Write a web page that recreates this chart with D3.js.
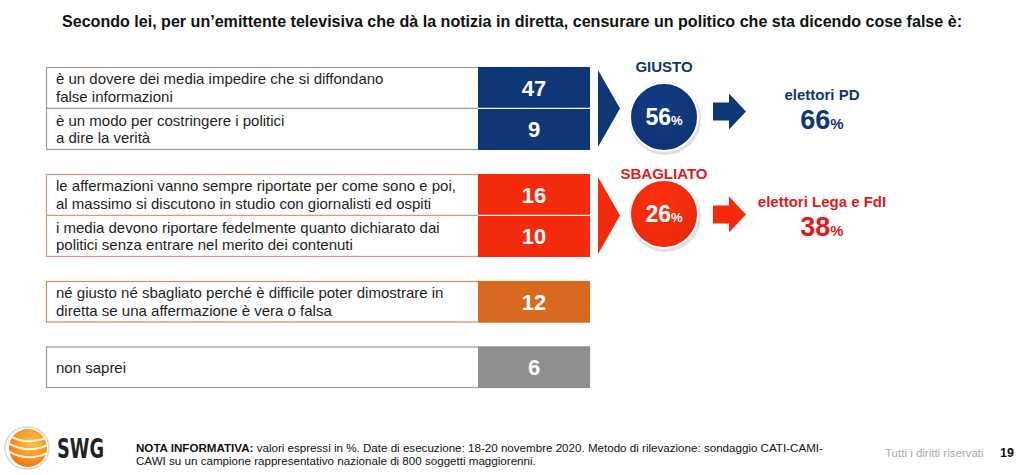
<!DOCTYPE html>
<html><head><meta charset="utf-8">
<script src="https://cdn.jsdelivr.net/npm/d3@7/dist/d3.min.js"></script>
<style>
html,body{margin:0;padding:0;background:#fff;}
svg{display:block;font-family:"Liberation Sans",Arial,sans-serif;}
</style></head>
<body><svg id="c" width="1025" height="475"></svg>
<script>
const title = "Secondo lei, per un’emittente televisiva che dà la notizia in diretta, censurare un politico che sta dicendo cose false è:";
const categories = [
  ["è un dovere dei media impedire che si diffondano", "false informazioni"],
  ["è un modo per costringere i politici", "a dire la verità"],
  ["le affermazioni vanno sempre riportate per come sono e poi,", "al massimo si discutono in studio con giornalisti ed ospiti"],
  ["i media devono riportare fedelmente quanto dichiarato dai", "politici senza entrare nel merito dei contenuti"],
  ["né giusto né sbagliato perché è difficile poter dimostrare in", "diretta se una affermazione è vera o falsa"],
  ["non saprei"]
];
const values = [47, 9, 16, 10, 12, 6];
const groups = ["giusto", "giusto", "sbagliato", "sbagliato", "neutro", "nonsa"];
const summaryLabels = ["GIUSTO", "SBAGLIATO"];
const summaryValues = [56, 26];
const summaryGroups = ["giusto", "sbagliato"];
const partyLabels = ["elettori PD", "elettori Lega e FdI"];
const partyValues = [66, 38];
const noteBold = "NOTA INFORMATIVA:";
const noteLine1 = " valori espressi in %. Date di esecuzione: 18-20 novembre 2020. Metodo di rilevazione: sondaggio CATI-CAMI-";
const noteLine2 = "CAWI su un campione rappresentativo nazionale di 800 soggetti maggiorenni.";
const rights = "Tutti i diritti riservati";
const pageNum = "19";

const fill = {giusto:"#0f3676", sbagliato:"#f42a0c", neutro:"#d8691f", nonsa:"#8e8e8e"};
const border = {giusto:"#9a9a9a", sbagliato:"#e8908a", neutro:"#dc8a55", nonsa:"#9a9a9a"};
const textCol = {giusto:"#0f3676", sbagliato:"#e11b1b"};

const svg = d3.select("#c");
const defs = svg.append("defs");

// title
svg.append("text").attr("x", 512).attr("y", 27).attr("text-anchor","middle")
  .attr("font-family","'Liberation Sans Narrow','Arial Narrow','Liberation Sans',sans-serif")
  .attr("font-weight","bold").attr("font-size",16.5).attr("fill","#111")
  .attr("textLength", 900).attr("lengthAdjust","spacingAndGlyphs")
  .text(title);

// compute slots with gaps between groups
const GAP = 0.58;
let slots = [], s = 0;
values.forEach((v,i)=>{ if(i>0 && groups[i]!==groups[i-1]) s += GAP; slots.push(s); s += 1; });
const totalSlots = s;
const y = d3.scaleLinear().domain([0,totalSlots]).range([67, 388]);
const x = d3.scaleLinear().domain([0,1]).range([46, 590]);
const valX0 = 478;

const rows = values.map((v,i)=>({v, i, g:groups[i], lines:categories[i], y0:y(slots[i]), y1:y(slots[i]+1)}));

// group outlines
const groupNames = Array.from(new Set(groups));
groupNames.forEach(g=>{
  const rs = rows.filter(r=>r.g===g);
  const y0 = rs[0].y0, y1 = rs[rs.length-1].y1;
  svg.append("rect").attr("x", x(0)+0.5).attr("y", y0+0.5).attr("width", x(1)-x(0)-1).attr("height", y1-y0-1)
    .attr("fill","#fff").attr("stroke", border[g]).attr("stroke-width",1.2);
});

// value boxes
svg.selectAll("rect.val").data(rows).join("rect").attr("class","val")
  .attr("x", valX0).attr("y", d=>d.y0).attr("width", x(1)-valX0).attr("height", d=>d.y1-d.y0)
  .attr("fill", d=>fill[d.g]);

// dividers inside groups
rows.forEach((r,i)=>{
  if(i>0 && groups[i]===groups[i-1]){
    svg.append("line").attr("x1", x(0)).attr("x2", valX0).attr("y1", r.y0).attr("y2", r.y0)
      .attr("stroke", border[r.g]).attr("stroke-width",1.2);
    svg.append("line").attr("x1", valX0).attr("x2", x(1)).attr("y1", r.y0).attr("y2", r.y0)
      .attr("stroke", "#fff").attr("stroke-width",1.2);
  }
});

// category text
rows.forEach(r=>{
  const n = r.lines.length;
  const cy = (r.y0+r.y1)/2;
  const lh = 17.5;
  const t = svg.append("text").attr("font-size",15).attr("fill","#1e1e1e");
  r.lines.forEach((ln,k)=>{
    t.append("tspan").attr("x", x(0)+10).attr("y", cy + (k-(n-1)/2)*lh + 5.5).text(ln);
  });
});

// values
svg.selectAll("text.val").data(rows).join("text").attr("class","val")
  .attr("x", (valX0+x(1))/2).attr("y", d=>(d.y0+d.y1)/2+8).attr("text-anchor","middle")
  .attr("font-weight","bold").attr("font-size",22).attr("fill","#fff").text(d=>d.v);

// summary: chevrons, circles, arrows, party text
const circleShift = [8.5, -1.5];
const arrowShift = [-5, -9];
summaryGroups.forEach((g,k)=>{
  const rs = rows.filter(r=>r.g===g);
  const y0 = rs[0].y0, y1 = rs[rs.length-1].y1, cy = (y0+y1)/2;
  const col = fill[g];
  const base = cy + 8;
  // chevron
  svg.append("path").attr("d", `M598,${y0+3} L620,${cy} L598,${y1-3} Z`).attr("fill", col);
  // circle gradient
  const gid = "grad"+k;
  const rg = defs.append("radialGradient").attr("id",gid).attr("cx","45%").attr("cy","35%").attr("r","70%");
  rg.append("stop").attr("offset","0%").attr("stop-color", d3.color(col).brighter(0.35));
  rg.append("stop").attr("offset","100%").attr("stop-color", d3.color(col).darker(0.15));
  const ccx = 664, ccy = cy + circleShift[k];
  svg.append("circle").attr("cx", ccx+1).attr("cy", ccy+2).attr("r", 36).attr("fill","#000").attr("opacity",0.12);
  svg.append("circle").attr("cx", ccx).attr("cy", ccy).attr("r", 34).attr("fill", `url(#${gid})`)
    .attr("stroke","#fff").attr("stroke-width",2);
  const st = svg.append("text").attr("x", ccx).attr("y", ccy+8).attr("text-anchor","middle").attr("fill","#fff").attr("font-weight","bold");
  st.append("tspan").attr("font-size",23).text(summaryValues[k]);
  st.append("tspan").attr("font-size",13).text("%");
  svg.append("text").attr("x", ccx).attr("y", base-44).attr("text-anchor","middle").attr("font-weight","bold")
    .attr("font-size",15).attr("fill", textCol[g]).text(summaryLabels[k]);
  // arrow
  const ay = base + arrowShift[k];
  svg.append("path").attr("d", `M713,${ay-9} L729,${ay-9} L729,${ay-18} L746,${ay} L729,${ay+18} L729,${ay+9} L713,${ay+9} Z`)
    .attr("fill", col);
  // party text
  svg.append("text").attr("x", 822).attr("y", base-16).attr("text-anchor","middle").attr("font-weight","bold")
    .attr("font-size",15).attr("fill", textCol[g]).text(partyLabels[k]);
  const pt = svg.append("text").attr("x", 822).attr("y", base+13).attr("text-anchor","middle").attr("font-weight","bold").attr("fill", textCol[g]);
  pt.append("tspan").attr("font-size",27).text(partyValues[k]);
  pt.append("tspan").attr("font-size",15).text("%");
});

// footer logo
const lg = defs.append("radialGradient").attr("id","lg").attr("cx","60%").attr("cy","35%").attr("r","75%");
lg.append("stop").attr("offset","0%").attr("stop-color","#ffc24a");
lg.append("stop").attr("offset","60%").attr("stop-color","#f7931e");
lg.append("stop").attr("offset","100%").attr("stop-color","#e56a10");
svg.append("ellipse").attr("cx",27).attr("cy",448).attr("rx",22).attr("ry",21).attr("fill","none").attr("stroke","#d8d8d8").attr("stroke-width",1.5);
svg.append("circle").attr("cx",28).attr("cy",448).attr("r",19).attr("fill","url(#lg)");
const clip = defs.append("clipPath").attr("id","lc");
clip.append("circle").attr("cx",28).attr("cy",448).attr("r",19);
[-8,0,8].forEach(o=>{
  svg.append("path").attr("clip-path","url(#lc)")
    .attr("d", `M4,${448+o-8} Q24,${448+o+8} 50,${448+o-4}`).attr("fill","none").attr("stroke","#fff").attr("stroke-width",2).attr("opacity",0.85);
});
svg.append("text").attr("x",57).attr("y",458).attr("font-weight","bold").attr("font-size",27)
  .attr("font-family","'DejaVu Sans','Liberation Sans',sans-serif").attr("fill","#222").attr("textLength",47).attr("lengthAdjust","spacingAndGlyphs").text("SWG");

const nt = svg.append("text").attr("font-size",11.6).attr("fill","#111");
const t1 = nt.append("tspan").attr("x",136).attr("y",452);
t1.append("tspan").attr("font-weight","bold").text(noteBold);
t1.append("tspan").text(noteLine1);
nt.append("tspan").attr("x",136).attr("y",465).text(noteLine2);

svg.append("text").attr("x",885).attr("y",457).attr("font-size",11.5).attr("fill","#aaa").text(rights);
svg.append("text").attr("x",1000).attr("y",457).attr("font-size",12.5).attr("font-weight","bold").attr("fill","#111").text(pageNum);
</script></body></html>
